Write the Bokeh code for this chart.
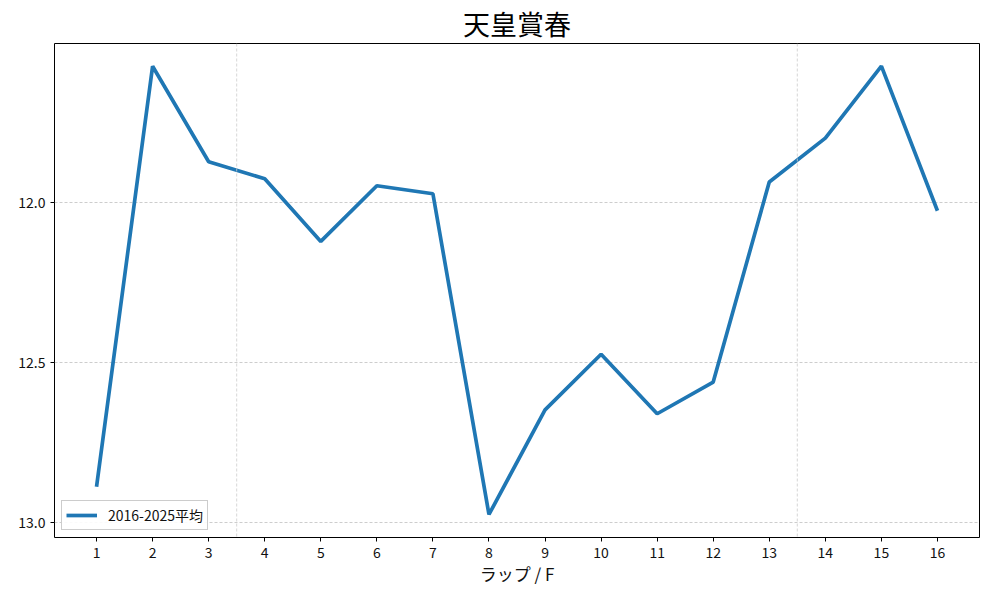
from bokeh.plotting import figure
from bokeh.models import Range1d, FixedTicker, Span, Legend, LegendItem
from bokeh.embed import file_html
from bokeh.resources import INLINE

laps = list(range(1, 17))
avg_times = [12.888, 11.573, 11.872, 11.925, 12.121, 11.947, 11.972, 12.975,
             12.648, 12.474, 12.660, 12.561, 11.935, 11.798, 11.573, 12.025]
y_ticks = [12.0, 12.5, 13.0]
section_marks = [3.5, 13.5]
series_label = "2016-2025平均"
title_text = "天皇賞春"
x_label = "ラップ / F"

FONT = "Noto Sans CJK JP"

p = figure(frame_width=925, frame_height=494, output_backend="svg",
           toolbar_location=None,
           x_range=Range1d(0.25, 16.75), y_range=Range1d(13.047, 11.502),
           min_border_left=54, min_border_right=5, min_border_top=43, min_border_bottom=47)
p.background_fill_color = "white"
p.border_fill_color = "white"
p.outline_line_color = "black"
p.outline_line_width = 1

p.title.text = title_text
p.title.align = "center"
p.title.text_font = FONT
p.title.text_font_size = "27px"
p.title.text_font_style = "normal"
p.title.text_color = "black"
p.title.standoff = 2

p.xaxis.ticker = FixedTicker(ticks=laps)
p.yaxis.ticker = FixedTicker(ticks=y_ticks)
p.yaxis.major_label_overrides = {12.0: "12.0", 12.5: "12.5", 13.0: "13.0"}
for ax in (p.xaxis[0], p.yaxis[0]):
    ax.major_label_text_font = FONT
    ax.major_label_text_font_size = "14px"
    ax.major_label_text_color = "#111111"
    ax.axis_line_color = None
    ax.major_tick_line_color = "black"
    ax.major_tick_in = 0
    ax.major_tick_out = 4
    ax.minor_tick_line_color = None
    ax.major_label_standoff = 5
p.xaxis.axis_label = x_label
p.xaxis.axis_label_text_font = FONT
p.xaxis.axis_label_text_font_size = "17px"
p.xaxis.axis_label_text_font_style = "normal"
p.xaxis.axis_label_text_color = "#111111"
p.xaxis.axis_label_standoff = 0

p.xgrid.grid_line_color = None
p.ygrid.grid_line_color = "#b8b8b8"
p.ygrid.grid_line_dash = "3 2"
p.ygrid.grid_line_width = 0.7

for xm in section_marks:
    p.add_layout(Span(location=xm, dimension="height", line_color="#cccccc",
                      line_dash="3 2", line_width=0.8))

r = p.line(laps, avg_times, line_color="#1f77b4", line_width=3.7)

legend = Legend(items=[LegendItem(label=series_label, renderers=[r])],
                location="bottom_left")
legend.label_text_font = FONT
legend.label_text_font_size = "14px"
legend.label_text_color = "#111111"
legend.border_line_color = "#cccccc"
legend.border_line_width = 1
legend.border_line_alpha = 1
legend.background_fill_alpha = 0.9
legend.margin = 7
legend.padding = 4
legend.spacing = 0
legend.glyph_width = 31
legend.glyph_height = 16
legend.label_standoff = 11
legend.label_height = 16
p.add_layout(legend)

open("out.html", "w").write(file_html(p, INLINE))
